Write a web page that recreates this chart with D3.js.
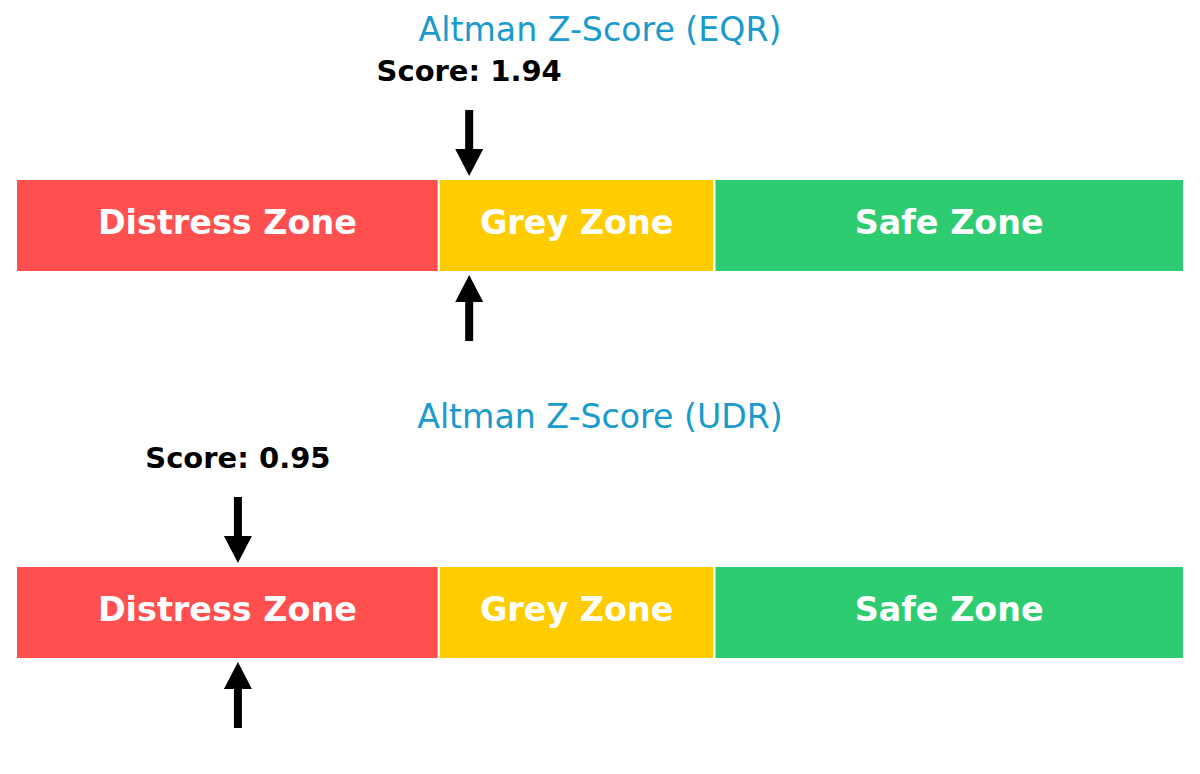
<!DOCTYPE html>
<html>
<head>
<meta charset="utf-8">
<script src="https://cdn.jsdelivr.net/npm/d3@7"></script>
<style>
  html, body { margin: 0; padding: 0; background: #ffffff; }
  svg { display: block; }
</style>
</head>
<body>
<svg id="chart" width="1200" height="774"></svg>
<script>
// ---- data ----
const companies = ["EQR", "UDR"];
const scores = [1.94, 0.95];
const zoneNames = ["Distress Zone", "Grey Zone", "Safe Zone"];
const zoneStarts = [0, 1.81, 2.99];
const zoneEnds = [1.81, 2.99, 5];
const zoneColors = ["#ff4f4f", "#ffcc00", "#2ecc71"];
const scaleDomain = [0, 5];

// ---- layout ----
const W = 1200, H = 774;
const panelOffset = 387;
const titleY = 41, scoreY = 81;
const barTop = 179, barBottom = 272;
const arrowTopStart = 110, arrowTopTip = 176;
const arrowBotTip = 275, arrowBotEnd = 341;
const shaftW = 8, headW = 28, headL = 27;

const svg = d3.select("#chart");
const x = d3.scaleLinear().domain(scaleDomain).range([16, 1184]);

const zones = zoneNames.map((n, i) => ({ name: n, from: zoneStarts[i], to: zoneEnds[i], color: zoneColors[i] }));

function arrowPath(cx, yStart, yTip) {
  const dir = yTip > yStart ? 1 : -1;
  const headBase = yTip - dir * headL;
  return [
    [cx - shaftW / 2, yStart],
    [cx + shaftW / 2, yStart],
    [cx + shaftW / 2, headBase],
    [cx + headW / 2, headBase],
    [cx, yTip],
    [cx - headW / 2, headBase],
    [cx - shaftW / 2, headBase]
  ];
}
const line = d3.line();

companies.forEach((c, pi) => {
  const g = svg.append("g").attr("transform", `translate(0,${pi * panelOffset})`);

  g.append("text")
    .attr("x", 600).attr("y", titleY)
    .attr("text-anchor", "middle")
    .attr("font-family", "DejaVu Sans")
    .attr("font-size", 33.2)
    .attr("fill", "#1a9bcc")
    .text(`Altman Z-Score (${c})`);

  g.selectAll("rect.zone").data(zones).enter().append("rect")
    .attr("class", "zone")
    .attr("x", d => x(d.from))
    .attr("y", barTop)
    .attr("width", d => x(d.to) - x(d.from))
    .attr("height", barBottom - barTop)
    .attr("fill", d => d.color)
    .attr("stroke", "#ffffff")
    .attr("stroke-width", 2);

  g.selectAll("text.zone").data(zones).enter().append("text")
    .attr("class", "zone")
    .attr("x", d => (x(d.from) + x(d.to)) / 2)
    .attr("y", (barTop + barBottom) / 2)
    .attr("dy", "0.26em")
    .attr("text-anchor", "middle")
    .attr("font-family", "DejaVu Sans")
    .attr("font-weight", "bold")
    .attr("font-size", 33.4)
    .attr("fill", "#ffffff")
    .text(d => d.name);

  const sx = x(scores[pi]);
  g.append("path")
    .attr("d", line(arrowPath(sx, arrowTopStart, arrowTopTip)) + "Z")
    .attr("fill", "#000000");
  g.append("path")
    .attr("d", line(arrowPath(sx, arrowBotEnd, arrowBotTip)) + "Z")
    .attr("fill", "#000000");

  g.append("text")
    .attr("x", sx).attr("y", scoreY)
    .attr("text-anchor", "middle")
    .attr("font-family", "DejaVu Sans")
    .attr("font-weight", "bold")
    .attr("font-size", 29)
    .attr("fill", "#000000")
    .text(`Score: ${scores[pi].toFixed(2)}`);
});
</script>
</body>
</html>
